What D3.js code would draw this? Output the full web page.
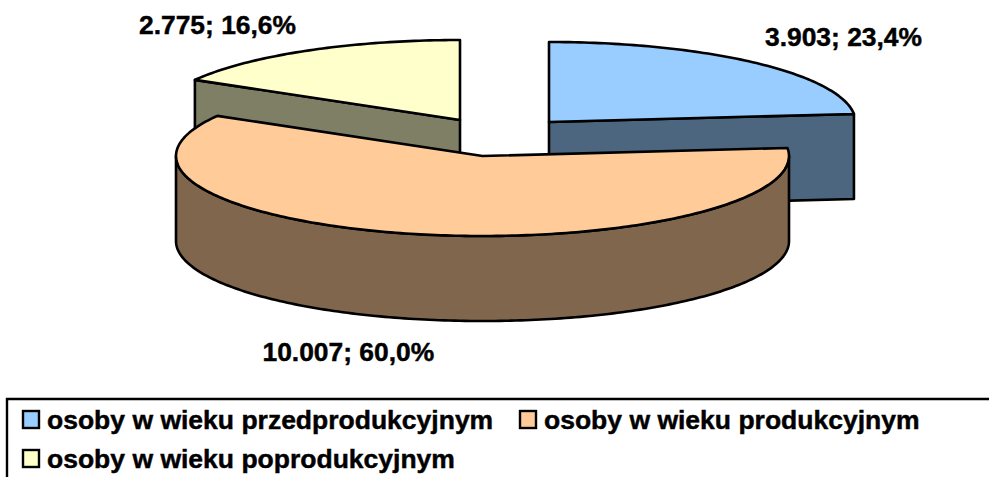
<!DOCTYPE html>
<html><head><meta charset="utf-8">
<script src="https://cdn.jsdelivr.net/npm/d3@7"></script>
<style>html,body{margin:0;padding:0;background:#fff;overflow:hidden}svg{display:block}text{font-family:"Liberation Sans",Arial,sans-serif;font-weight:bold;fill:#000;stroke:#000;stroke-width:.45px}</style>
</head><body><div id="c"></div>
<script>
const categories=["osoby w wieku przedprodukcyjnym","osoby w wieku produkcyjnym","osoby w wieku poprodukcyjnym"];
const values=[3903,10007,2775];
const valueLabels=["3.903; 23,4%","10.007; 60,0%","2.775; 16,6%"];
const topColors=["#99ccff","#ffcc99","#ffffcc"];
const wallColors=["#4d667f","#7f664d","#7f7f66"];
const apexes=[[549,122],[482.5,156],[460,120]];
const labelPos=[[765,46],[262.5,361],[139,34]];
const legendPos=[[22,47,429],[519,544,429],[22,47,468]];

const W=989,H=477,RX=306.5,RY=80,DEPTH=85;
const svg=d3.select("#c").append("svg").attr("width",W).attr("height",H);
const unitX=d3.scaleLinear().domain([-1,1]).range([-RX,RX]);
const unitY=d3.scaleLinear().domain([-1,1]).range([RY,-RY]);
const pie=d3.pie().sort(null).startAngle(0).endAngle(2*Math.PI);
const arcs=pie(values);
const line=d3.line();
const rim=(c,a,dy=0)=>[c[0]+unitX(Math.sin(a)),c[1]+unitY(Math.cos(a))+dy];
const sample=(a0,a1)=>{const n=Math.max(2,Math.ceil((a1-a0)*60));return d3.range(n+1).map(i=>a0+(a1-a0)*i/n);};
const stroke=p=>p.attr("stroke","#000").attr("stroke-width",2.6).attr("stroke-linejoin","round");

[2,0,1].forEach(i=>{
  const d=arcs[i],c=apexes[i],a0=d.startAngle,a1=d.endAngle;
  const g=svg.append("g");
  const bot=[c[0],c[1]+DEPTH];
  const facing=[];
  if(i===0) facing.push(a1);
  if(i===2) facing.push(a0);
  facing.forEach(a=>{
    const e=rim(c,a);
    g.append("path").attr("d",line([c,e,[e[0],e[1]+DEPTH],bot])+"Z").attr("fill",wallColors[i]).call(stroke);
  });
  const fa0=Math.max(a0,Math.PI/2),fa1=Math.min(a1,3*Math.PI/2);
  if(fa1>fa0){
    const as=sample(fa0,fa1);
    const pts=as.map(a=>rim(c,a)).concat(as.slice().reverse().map(a=>rim(c,a,DEPTH)));
    g.append("path").attr("d",line(pts)+"Z").attr("fill",wallColors[i]).call(stroke);
  }
  const pts=[c].concat(sample(a0,a1).map(a=>rim(c,a)));
  g.append("path").attr("d",line(pts)+"Z").attr("fill",topColors[i]).call(stroke);
});

svg.selectAll("text.lab").data(valueLabels).join("text").attr("class","lab")
  .attr("x",(d,i)=>labelPos[i][0]).attr("y",(d,i)=>labelPos[i][1]).attr("font-size",26.4).text(d=>d);

svg.append("path").attr("d",line([[7,H],[7,399],[W,399]])).attr("fill","none").attr("stroke","#000").attr("stroke-width",2.4);
categories.forEach((t,i)=>{
  const p=legendPos[i];
  svg.append("rect").attr("x",p[0]+1).attr("y",p[2]-18).attr("width",16).attr("height",17)
    .attr("fill",topColors[i]).attr("stroke","#000").attr("stroke-width",2.4);
  svg.append("text").attr("x",p[1]).attr("y",p[2]).attr("font-size",26.5).text(t);
});
</script></body></html>
